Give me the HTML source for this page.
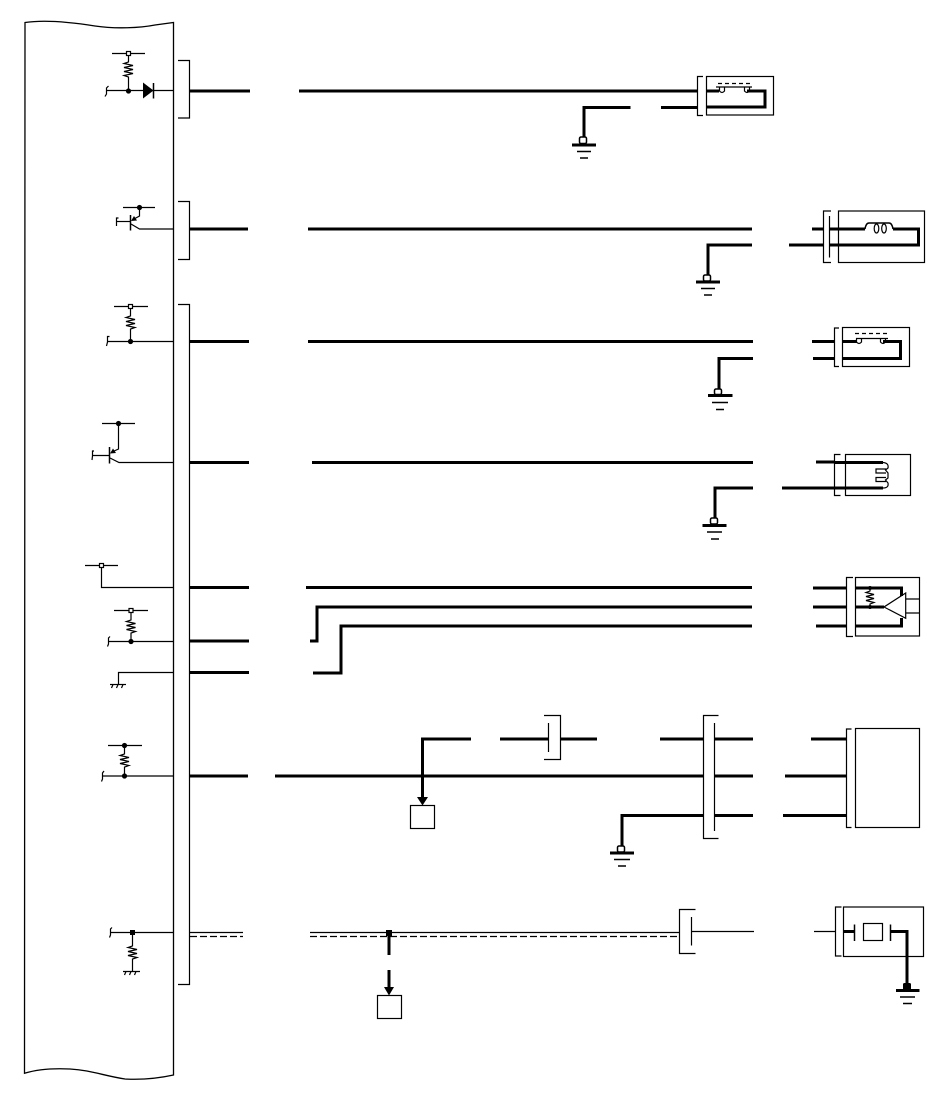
<!DOCTYPE html>
<html><head><meta charset="utf-8"><style>
html,body{margin:0;padding:0;background:#fff;}
svg{display:block;}
</style></head><body>
<svg width="950" height="1103" viewBox="0 0 950 1103" xmlns="http://www.w3.org/2000/svg">
<rect width="950" height="1103" fill="#fff"/>
<!-- ECU outline -->
<path d="M25,22.5 C45,19.5 70,22 95,26 C115,29 140,28 155,25 L173.5,22.5 L173.5,1075 C160,1078 145,1080 125,1079 C105,1076 90,1070 70,1069 C50,1068 35,1070 24.5,1073.3 Z" fill="none" stroke="#000" stroke-width="1.3"/>

<g fill="none" stroke="#000" stroke-width="1.2">
<!-- connectors at ECU -->
<path d="M178,60.5 H189.5 V118 H178"/>
<path d="M178,201.5 H189.5 V259.5 H178"/>
<path d="M178,304.5 H189.5 V984.5 H178"/>

<!-- Row1 ECU: resistor + diode -->
<path d="M112,53.5 H145"/>
<path d="M128.5,55.5 V62 L124,63.5 L133,65.5 L124,67.5 L133,69.5 L124,71.5 L133,73.5 L124,75.5 L128.5,77 V91"/>
<path d="M106,90.5 H173"/>
<path d="M108.5,86 L106.5,88 V94 L105,96.5"/>
<path d="M153.5,83 V98.5" stroke-width="1.5"/>

<!-- Row2 transistor -->
<path d="M123,207.5 H155"/>
<path d="M139.5,207.5 V216 L134,219"/>
<path d="M130.5,215 V230.5" stroke-width="1.5"/>
<path d="M116.5,221.5 H130"/>
<path d="M118.5,218 H116.5 V226"/>
<path d="M131,224 L139.5,229 H173"/>

<!-- Row3 resistor -->
<path d="M114,306.5 H148"/>
<path d="M130.5,308.5 V316 L126,317.5 L135,319.5 L126,321.5 L135,323.5 L126,325.5 L135,327.5 L130.5,329 V341.5"/>
<path d="M107.5,341.5 H173"/>
<path d="M109.5,336.5 H107.5 V342 L106.5,346"/>

<!-- Row4 transistor -->
<path d="M102,423.5 H135"/>
<path d="M118.5,423.5 V449 L113,451.5"/>
<path d="M109.5,447 V463.5" stroke-width="1.5"/>
<path d="M92.5,455.5 H109.5"/>
<path d="M94,451 H92.5 V456 L92,460"/>
<path d="M110,458 L119,462.5 H173"/>

<!-- Row5 elements -->
<path d="M85,565.5 H118"/>
<path d="M101.5,567.5 V587.5 H173"/>
<path d="M114,610.5 H148"/>
<path d="M131,612.5 V620 L126.5,621.5 L135.5,623.5 L126.5,625.5 L135.5,627.5 L126.5,629.5 L135.5,631.5 L131,633 V641.5"/>
<path d="M108,641.5 H173"/>
<path d="M110,636.5 L108.5,638 V644 L107.5,646.5"/>
<path d="M110,684.5 H126"/>
<path d="M113,684.5 L111.5,688 M118,684.5 L116.5,688 M123,684.5 L121.5,688"/>
<path d="M118.5,684.5 V672.5 H173"/>

<!-- Row6 resistor -->
<path d="M108,745.5 H142"/>
<path d="M124.5,745.5 V754 L120,755.5 L129,757.5 L120,759.5 L129,761.5 L120,763.5 L129,765.5 L124.5,767 V776"/>
<path d="M102,776 H173"/>
<path d="M104,771 L102.5,773 V779 L101.5,781.5"/>

<!-- Row7 -->
<path d="M112,927.5 L110.5,929 V935 L109.5,937.5"/>
<path d="M110,932.5 H173"/>
<path d="M132.5,932.5 V946 L128,947.5 L137,949.5 L128,951.5 L137,953.5 L128,955.5 L137,957.5 L132.5,959 V971.5"/>
<path d="M123,971.5 H140"/>
<path d="M126,971.5 L124.5,975 M131,971.5 L129.5,975 M136,971.5 L134.5,975"/>
</g>

<!-- small open squares and dots -->
<g fill="#fff" stroke="#000" stroke-width="1.2">
<rect x="126.5" y="51.5" width="4" height="4"/>
<rect x="128.5" y="304.5" width="4" height="4"/>
<rect x="99.5" y="563.5" width="4" height="4"/>
<rect x="129" y="608.5" width="4" height="4"/>
</g>
<g fill="#000">
<circle cx="128.5" cy="91" r="2.6"/>
<polygon points="143,82.5 143,98.5 153.5,90.5"/>
<circle cx="139.5" cy="207.5" r="2.6"/>
<polygon points="131,221 134,216 137,220.5"/>
<circle cx="130.5" cy="341.5" r="2.6"/>
<circle cx="118.5" cy="423.5" r="2.6"/>
<polygon points="110,453.5 113,448.5 116,453"/>
<circle cx="131" cy="641.5" r="2.6"/>
<circle cx="124.5" cy="745.5" r="2.6"/>
<circle cx="124.5" cy="776" r="2.6"/>
<rect x="130" y="930" width="5" height="5"/>
</g>

<!-- Thick wires -->
<g fill="none" stroke="#000" stroke-width="3">
<!-- row1 -->
<path d="M190,91 H250"/>
<path d="M299,91 H697"/>
<path d="M661,107.5 H697"/>
<path d="M630.5,107.5 H584 V137"/>
<!-- row2 -->
<path d="M190,229 H248"/>
<path d="M308,229 H752"/>
<path d="M752,245 H708 V275"/>
<path d="M812,229 H823"/>
<path d="M789,245 H823"/>
<!-- row3 -->
<path d="M190,341.5 H249"/>
<path d="M308,341.5 H753"/>
<path d="M753,358.5 H719 V389"/>
<path d="M812,341.5 H834"/>
<path d="M813,358.5 H834"/>
<!-- row4 -->
<path d="M190,462.5 H249"/>
<path d="M312,462.5 H753"/>
<path d="M753,488 H715 V518"/>
<path d="M816,462 H834"/>
<path d="M782,488 H834"/>
<!-- row5 -->
<path d="M190,587.5 H249"/>
<path d="M190,641 H249"/>
<path d="M190,672.5 H249"/>
<path d="M306,587.5 H752"/>
<path d="M310,641 H317 V607 H752"/>
<path d="M313,673 H341 V626 H752"/>
<path d="M813,588 H846"/>
<path d="M813,607 H846"/>
<path d="M816,626 H846"/>
<!-- row6 -->
<path d="M190,776 H248"/>
<path d="M275,776 H704"/>
<path d="M471,739 H422.5 V797"/>
<path d="M500,739 H548.5"/>
<path d="M560.5,739 H597"/>
<path d="M660,739 H704"/>
<path d="M715,739 H753"/>
<path d="M715,776 H753"/>
<path d="M715,815.5 H753"/>
<path d="M704,815.5 H622 V846"/>
<path d="M811,739 H847"/>
<path d="M785,776 H847"/>
<path d="M783,815.5 H847"/>
<!-- row7 -->
<path d="M389,935 V955"/>
<path d="M389,970 V988"/>
</g>

<!-- ground symbols -->
<g fill="none" stroke="#000">
<g>
<rect x="579.5" y="137" width="7" height="6.5" rx="1.5" stroke-width="1.5"/>
<path d="M572,145 H596" stroke-width="3"/>
<path d="M577,151.5 H591 M580,158 H588" stroke-width="1.5"/>
</g>
<g>
<rect x="703.5" y="275" width="7" height="6" rx="1.5" stroke-width="1.5"/>
<path d="M696,282 H720" stroke-width="3"/>
<path d="M701,288.5 H715 M704,295 H712" stroke-width="1.5"/>
</g>
<g>
<rect x="714.5" y="389" width="7" height="5.5" rx="1.5" stroke-width="1.5"/>
<path d="M708,395.5 H732.5" stroke-width="3"/>
<path d="M712,402.5 H728 M716,409.5 H724" stroke-width="1.5"/>
</g>
<g>
<rect x="710.5" y="518" width="7" height="6" rx="1.5" stroke-width="1.5"/>
<path d="M702.5,525.5 H726.5" stroke-width="3"/>
<path d="M707,532 H722 M711,539 H719" stroke-width="1.5"/>
</g>
<g>
<rect x="617.5" y="846" width="7" height="6" rx="1.5" stroke-width="1.5"/>
<path d="M610,853 H634" stroke-width="3"/>
<path d="M614,859.5 H630 M618,866 H626" stroke-width="1.5"/>
</g>
</g>

<!-- Row1 relay -->
<g fill="none" stroke="#000" stroke-width="1.2">
<path d="M703,76.5 H697.5 V115.5 H703"/>
<rect x="706.5" y="76.5" width="67" height="38.5"/>
<path d="M716,87 H752"/>
<path d="M718,83.5 H752" stroke-dasharray="4,3"/>
<path d="M719.5,87 V91 Q722,94 724.5,91 V87"/>
<path d="M744.5,87 V91 Q747,94 749.5,91 V87"/>
</g>
<path d="M706,91 H719 M747,91 H765 V107 H706" fill="none" stroke="#000" stroke-width="3"/>

<!-- Row2 coil -->
<g fill="none" stroke="#000" stroke-width="1.2">
<path d="M831,211 H823.5 V262.5 H831"/>
<path d="M829.5,216 V257.5"/>
<rect x="838.5" y="211" width="86" height="51.5"/>
<path d="M865,229 Q866,223 869,223 H889 Q892,223 893,229" stroke-width="1.5"/>
<ellipse cx="876.5" cy="228.5" rx="2.3" ry="4.5"/>
<ellipse cx="884" cy="228.5" rx="2.3" ry="4.5"/>
</g>
<path d="M829.5,229 H865 M893,229 H918.5 V245 H829.5" fill="none" stroke="#000" stroke-width="3"/>

<!-- Row3 relay -->
<g fill="none" stroke="#000" stroke-width="1.2">
<path d="M839,328 H834.5 V366.5 H839"/>
<rect x="842.5" y="327.5" width="67" height="39"/>
<path d="M856,338.5 H888"/>
<path d="M855,333.5 H889" stroke-dasharray="4,3"/>
<path d="M856.5,338.5 V342 Q859,345 861.5,342 V338.5"/>
<path d="M880.5,338.5 V342 Q883,345 885.5,342 V338.5"/>
</g>
<path d="M842,341.5 H857 M883,341.5 H900.5 V358.5 H842" fill="none" stroke="#000" stroke-width="3"/>

<!-- Row4 bulb -->
<g fill="none" stroke="#000" stroke-width="1.2">
<path d="M840.5,454.5 H834.5 V495.5 H840.5"/>
<rect x="845.5" y="454.5" width="65" height="41"/>
<path d="M883,462.5 Q889,463 888,468 L885.5,470 L888,473 V478 L885.5,480 L888,483 Q889,488 883,488"/>
<path d="M886,469 H876 V473 H886"/>
<path d="M886,477.5 H876 V481.5 H886"/>
</g>
<path d="M834.5,462.5 H883 M834.5,488 H883" fill="none" stroke="#000" stroke-width="3"/>

<!-- Row5 amplifier -->
<g fill="none" stroke="#000" stroke-width="1.2">
<path d="M853,577.5 H846.5 V636.5 H853"/>
<rect x="855.5" y="577.5" width="64" height="58.5"/>
<path d="M905.7,593 L884,607 L905.7,618.3 Z"/>
<path d="M905.7,599 H919 M905.7,613 H919"/>
<path d="M870,588 V591 L866,592.5 L874,594.5 L866,596.5 L874,598.5 L866,600.5 L874,602.5 L870,604 V607"/>
</g>
<path d="M855,588 H901.5 V596 M855,607 H884 M855,626 H901.5 V618" fill="none" stroke="#000" stroke-width="3"/>
<circle cx="870" cy="588" r="2" fill="#000"/>
<circle cx="870" cy="607" r="2" fill="#000"/>

<!-- Row6 extras -->
<g fill="none" stroke="#000" stroke-width="1.2">
<rect x="410.5" y="805.5" width="24" height="23"/>
<path d="M548.5,723 V752"/>
<path d="M544,715.5 H560.5 V759.5 H544"/>
<path d="M718.5,715.5 H703.5 V838.5 H718.5"/>
<path d="M714.5,723 V831"/>
<path d="M851.5,729 H846.5 V827.5 H851.5"/>
<rect x="855.5" y="728.5" width="64" height="99"/>
</g>
<polygon points="417,797 428,797 422.5,805.5" fill="#000"/>

<!-- Row7 wires -->
<g fill="none" stroke="#000" stroke-width="1.2">
<path d="M190,932.5 H243"/>
<path d="M190,936.5 H243" stroke-dasharray="7,3"/>
<path d="M310,932.5 H679"/>
<path d="M310,936.5 H677" stroke-dasharray="7,3"/>
<path d="M692,931.5 H754"/>
<path d="M814,931.5 H836"/>
<rect x="377.5" y="995.5" width="24" height="23"/>
<path d="M695.5,909.5 H679.5 V953.5 H695.5"/>
<path d="M691.5,917 V945.5"/>
<path d="M841.5,907 H835.5 V956 H841.5"/>
<rect x="843.5" y="907" width="80" height="49.5"/>
<rect x="863.5" y="923.5" width="19" height="17"/>
<path d="M854.5,924.5 V941 M890.5,924.5 V941" stroke-width="1.5"/>
<path d="M900,997 H915 M903,1003.5 H912" stroke-width="1.5"/>
</g>
<rect x="386" y="930" width="6" height="6" fill="#000"/>
<polygon points="384,987 394,987 389,995.5" fill="#000"/>
<path d="M843,931.5 H854 M891,931.5 H907 V987" fill="none" stroke="#000" stroke-width="3"/>
<rect x="903" y="983" width="8" height="7" rx="1.5" fill="#000"/>
<path d="M896,990.5 H919.5" fill="none" stroke="#000" stroke-width="3"/>
</svg>
</body></html>
